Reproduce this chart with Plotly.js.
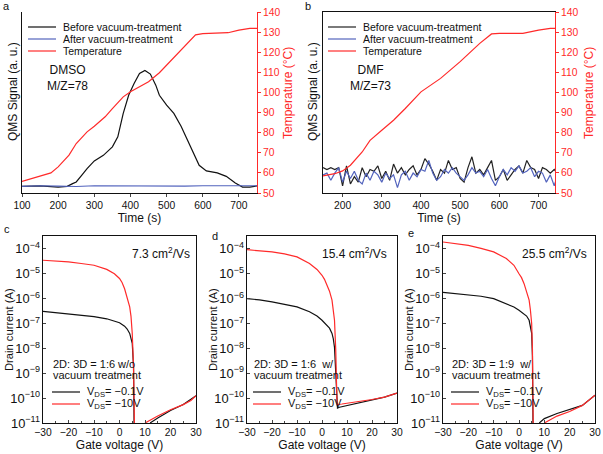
<!DOCTYPE html>
<html>
<head>
<meta charset="utf-8">
<script src="https://cdn.plot.ly/plotly-3.0.1.min.js"></script>
<style>
  html, body { margin: 0; padding: 0; background: #fff; }
  #fig { width: 603px; height: 454px; }
</style>
</head>
<body>
<div id="fig"></div>
<script>
// ---- panel a : DMSO, M/Z=78 ----
var aTime = [100, 150, 200, 225, 240, 250, 265, 280, 300, 325, 350, 365, 380, 395, 410, 425, 440, 455, 470, 480, 500, 520, 540, 560, 575, 590, 610, 640, 665, 690, 710, 730, 750];
var aBefore = [0.037, 0.039, 0.033, 0.037, 0.052, 0.061, 0.098, 0.135, 0.177, 0.208, 0.255, 0.31, 0.44, 0.54, 0.605, 0.66, 0.677, 0.657, 0.596, 0.54, 0.485, 0.44, 0.369, 0.282, 0.214, 0.153, 0.122, 0.111, 0.092, 0.055, 0.033, 0.033, 0.039];
var aTimeAfter = [100, 150, 200, 250, 300, 350, 400, 450, 500, 550, 600, 650, 700, 750];
var aAfter = [0.037, 0.04, 0.038, 0.036, 0.04, 0.039, 0.038, 0.04, 0.039, 0.038, 0.04, 0.039, 0.038, 0.04];
var aTempTime = [100, 150, 180, 200, 230, 250, 280, 300, 330, 350, 380, 400, 430, 450, 480, 500, 530, 560, 580, 600, 650, 670, 700, 730, 750];
var aTemp = [55.8, 58.3, 60, 63, 68.8, 74.6, 80.4, 83.2, 87.9, 92, 97.8, 100.3, 103.2, 105.3, 109.8, 113.6, 119.4, 125.2, 128.6, 129.2, 129.4, 129.7, 131, 131.9, 131.9];

// ---- panel b : DMF, M/Z=73 ----
var bTime = [];
for (var t = 150; t <= 750; t += 10) bTime.push(t);
var bBefore = [0.14, 0.13, 0.14, 0.13, 0.14, 0.04, 0.15, 0.05, 0.09, 0.06, 0.14, 0.09, 0.13, 0.12, 0.15, 0.08, 0.12, 0.07, 0.16, 0.11, 0.14, 0.10, 0.13, 0.15, 0.10, 0.13, 0.19, 0.16, 0.12, 0.07, 0.13, 0.11, 0.18, 0.13, 0.14, 0.08, 0.06, 0.14, 0.20, 0.11, 0.13, 0.10, 0.14, 0.18, 0.07, 0.09, 0.13, 0.07, 0.10, 0.13, 0.15, 0.11, 0.18, 0.14, 0.13, 0.08, 0.14, 0.13, 0.11, 0.13, 0.10];
var bAfter = [0.10, 0.11, 0.07, 0.11, 0.14, 0.06, 0.12, 0.08, 0.12, 0.07, 0.05, 0.11, 0.07, 0.12, 0.10, 0.06, 0.11, 0.08, 0.10, 0.03, 0.10, 0.12, 0.07, 0.11, 0.09, 0.13, 0.12, 0.18, 0.11, 0.07, 0.09, 0.13, 0.11, 0.14, 0.11, 0.09, 0.07, 0.10, 0.14, 0.11, 0.12, 0.09, 0.13, 0.08, 0.04, 0.09, 0.13, 0.10, 0.14, 0.12, 0.15, 0.11, 0.12, 0.14, 0.09, 0.12, 0.11, 0.06, 0.10, 0.04, 0.11];
var bTempTime = [150, 180, 200, 220, 250, 270, 300, 330, 360, 400, 450, 500, 550, 580, 600, 660, 700, 730, 750];
var bTemp = [58.5, 59.6, 61, 63.8, 70.4, 76.2, 81.2, 86.2, 92, 100.3, 107, 115.3, 124.4, 129.1, 129.4, 129.4, 131, 131.9, 131.9];

// ---- panels c, d, e : transfer curves ----
var cVgRed = [-30, -25, -20, -15, -10, -5, -2, 0, 1, 2, 3, 4, 4.5, 5, 5.5, 5.8, 6, null, 10, 12, 15, 20, 25, 28, 30];
var cRed = [3.5e-5, 3.3e-5, 3.0e-5, 2.6e-5, 2.2e-5, 1.5e-5, 1.0e-5, 6.5e-6, 4.5e-6, 2.5e-6, 1.2e-6, 4.7e-7, 2e-7, 4e-8, 1.8e-9, 1e-10, 1e-12, null, 1e-11, 1.3e-11, 1.9e-11, 3.4e-11, 5.5e-11, 8e-11, 1.25e-10];
var cVgBlack = [-30, -20, -10, -5, 0, 2, 3, 4, 4.5, 5, 5.5, 5.7, 5.8, null, 12, 15, 20, 25, 30];
var cBlack = [3.1e-7, 2.5e-7, 1.9e-7, 1.55e-7, 1.07e-7, 7.8e-8, 6e-8, 4e-8, 2.5e-8, 1.6e-8, 1.8e-9, 1e-10, 1e-12, null, 1e-11, 1.6e-11, 3.2e-11, 5.5e-11, 1.25e-10];

var dVgRed = [-30, -25, -20, -15, -10, -5, -2, 0, 1, 2, 3, 4, 5, 5.5, 5.8, 6, 8, 10, 15, 20, 25, 30];
var dRed = [9.3e-5, 8.5e-5, 7.6e-5, 6.3e-5, 4.8e-5, 2.6e-5, 1.5e-5, 8.7e-6, 6e-6, 3.5e-6, 2e-6, 8.7e-7, 1.35e-7, 8.5e-9, 3e-10, 5.5e-11, 5.8e-11, 6.2e-11, 7.3e-11, 8.8e-11, 1.1e-10, 1.6e-10];
var dVgBlack = [-30, -25, -20, -15, -10, -5, -2, 0, 2, 3, 4, 4.5, 5, 5.5, 5.8, 6.2, 7, 10, 15, 20, 25, 30];
var dBlack = [1.0e-6, 9e-7, 7.4e-7, 5.8e-7, 4.7e-7, 3.0e-7, 2.0e-7, 1.35e-7, 8.5e-8, 6.5e-8, 4e-8, 2.5e-8, 1.1e-8, 1e-9, 1.2e-10, 4e-11, 4.3e-11, 5e-11, 6.3e-11, 8.3e-11, 1.1e-10, 1.6e-10];

var eVgRed = [-30, -25, -20, -15, -10, -5, -2, 0, 1, 2, 3, 4, 4.5, 5, 5.3, 5.5, 5.7, null, 10, 12, 15, 20, 25, 30];
var eRed = [1.9e-4, 1.65e-4, 1.4e-4, 1.05e-4, 7.6e-5, 4.1e-5, 2.2e-5, 1.0e-5, 7e-6, 4e-6, 2e-6, 8.7e-7, 3.5e-7, 1e-7, 1e-8, 1e-9, 1e-12, null, 1e-11, 1.3e-11, 1.9e-11, 2.9e-11, 5.1e-11, 1.3e-10];
var eVgBlack = [-30, -25, -20, -15, -10, -5, -2, 0, 2, 3, 4, 4.5, 5, 5.3, 5.5, 5.6, null, 8, 10, 15, 20, 25, 30];
var eBlack = [1.8e-6, 1.6e-6, 1.5e-6, 1.25e-6, 1.0e-6, 6.3e-7, 4.6e-7, 3.4e-7, 2.4e-7, 2e-7, 1.35e-7, 8e-8, 4e-8, 5e-9, 3e-10, 1e-12, null, 1e-11, 1.5e-11, 2.4e-11, 3.5e-11, 5.1e-11, 1.3e-10];

// labels
var qmsNames = ["Before vacuum-treatment", "After vacuum-treatment", "Temperature"];
var vdsNames = ["V<sub>DS</sub>= \u22120.1V", "V<sub>DS</sub>= \u221210V"];
var ratioLabels = ["2D: 3D = 1:6 w/o", "2D: 3D = 1:6  w/", "2D: 3D = 1:9  w/"];
var mobLabels = ["7.3 cm<sup>2</sup>/Vs", "15.4 cm<sup>2</sup>/Vs", "25.5 cm<sup>2</sup>/Vs"];

var RED = "#ff2a2a";
var BLUE = "#5263bd";
var INK = "#111";
var FONT = "Liberation Sans, Arial, sans-serif";

function px(x) { return x / 603; }
function py(y) { return 1 - y / 454; }

function tr(x, y, color, name, xa, ya) {
  return { x: x, y: y, type: "scatter", mode: "lines", name: name, showlegend: false,
    line: { color: color, width: 1.2 }, xaxis: xa, yaxis: ya, connectgaps: false };
}

var data = [
  tr(aTime, aBefore, INK, qmsNames[0], "x", "y"),
  tr(aTimeAfter, aAfter, BLUE, qmsNames[1], "x", "y"),
  tr(aTempTime, aTemp, RED, qmsNames[2], "x", "y2"),
  tr(bTime, bBefore, "#222", qmsNames[0], "x2", "y3"),
  tr(bTime, bAfter, BLUE, qmsNames[1], "x2", "y3"),
  tr(bTempTime, bTemp, RED, qmsNames[2], "x2", "y4"),
  tr(cVgBlack, cBlack, INK, vdsNames[0], "x3", "y5"),
  tr(cVgRed, cRed, RED, vdsNames[1], "x3", "y5"),
  tr(dVgBlack, dBlack, INK, vdsNames[0], "x4", "y6"),
  tr(dVgRed, dRed, RED, vdsNames[1], "x4", "y6"),
  tr(eVgBlack, eBlack, INK, vdsNames[0], "x5", "y7"),
  tr(eVgRed, eRed, RED, vdsNames[1], "x5", "y7")
];

var tf = { family: FONT, size: 10.3, color: INK };
var titf = { family: FONT, size: 12, color: INK };

function timeAxis(dom, range, top) {
  return { domain: dom, range: range, dtick: 100, tick0: 0, ticks: "outside", ticklen: 3,
    linecolor: INK, linewidth: 1, showgrid: false, zeroline: false, tickfont: tf,
    title: { text: "Time (s)", font: titf, standoff: 2 }, mirror: top ? true : false };
}
function sigAxis(anchor) {
  return { domain: [py(193), py(12)], range: [0, 1], anchor: anchor, showticklabels: false, ticks: "",
    linecolor: INK, linewidth: 1, showgrid: false, zeroline: false };
}
function tempAxis(over, anchor) {
  return { overlaying: over, anchor: anchor, side: "right", range: [50, 140], dtick: 10,
    ticks: "outside", ticklen: 3, tickcolor: RED, linecolor: RED, linewidth: 1, showgrid: false,
    zeroline: false, tickfont: { family: FONT, size: 10.3, color: RED } };
}
function vgAxis(x0, x1, anchor) {
  return { domain: [px(x0), px(x1)], anchor: anchor, range: [-30, 30], dtick: 10, ticks: "inside", ticklen: 3,
    minor: { dtick: 5, ticks: "inside", ticklen: 2 }, linecolor: INK, linewidth: 1, mirror: true,
    showgrid: false, zeroline: false, tickfont: tf, title: { text: "Gate voltage (V)", font: titf, standoff: 2 } };
}
function idAxis(anchor) {
  return { domain: [py(423), py(236)], anchor: anchor, type: "log", range: [-11, -3.48], dtick: 1,
    exponentformat: "power", ticks: "inside", ticklen: 3, linecolor: INK, linewidth: 1, mirror: true,
    showgrid: false, zeroline: false, tickfont: tf };
}

var annotations = [];
var shapes = [];
function note(x, y, text, xa, size, color, angle) {
  annotations.push({ xref: "paper", yref: "paper", x: px(x), y: py(y), text: text, showarrow: false,
    xanchor: xa, yanchor: "middle", align: xa === "right" ? "right" : (xa === "left" ? "left" : "center"),
    textangle: angle || 0, borderpad: 0,
    font: { family: FONT, size: size, color: color || INK } });
}
// hand-made legend: short key line + label
function key(x0, x1, y, color, label, size) {
  shapes.push({ type: "line", xref: "paper", yref: "paper", x0: px(x0), x1: px(x1), y0: py(y), y1: py(y),
    line: { color: color, width: 1.2 } });
  note(x1 + 6, y, label, "left", size);
}

// panel letters
note(2, 6, "a", "left", 11);
note(304, 6, "b", "left", 11);
note(3, 229, "c", "left", 11);
note(211, 236, "d", "left", 11);
note(407, 233, "e", "left", 11);

// panels a, b
[[0, 28], [300, 328]].forEach(function (p, i) {
  key(p[1], p[1] + 28, 27, i ? "#222" : INK, qmsNames[0], 10.5);
  key(p[1], p[1] + 28, 39, BLUE, qmsNames[1], 10.5);
  key(p[1], p[1] + 28, 51, RED, qmsNames[2], 10.5);
});
note(67, 78, "DMSO<br>M/Z=78", "center", 12);
note(370, 78, "DMF<br>M/Z=73", "center", 12);
note(13, 92, "QMS Signal (a. u.)", "center", 12, INK, -90);
note(313, 92, "QMS Signal (a. u.)", "center", 12, INK, -90);
note(288, 93, "Temperature (\u00b0C)", "center", 12, RED, -90);
note(589, 93, "Temperature (\u00b0C)", "center", 12, RED, -90);

// panels c, d, e
[[43, 52, 191], [247, 253, 388], [443, 451, 588]].forEach(function (p, i) {
  note(p[0] - 34, 330, "Drain current (A)", "center", 11.2, INK, -90);
  note(p[1], 364, ratioLabels[i], "left", 11);
  note(p[1], 375, "vacuum treatment", "left", 11);
  key(p[1], p[1] + 28, 392, INK, vdsNames[0], 11);
  key(p[1], p[1] + 28, 404, RED, vdsNames[1], 11);
  note(p[2], 253, mobLabels[i], "right", 12);
});

var layout = {
  width: 603, height: 454,
  margin: { l: 0, r: 0, t: 0, b: 0 },
  paper_bgcolor: "#fff", plot_bgcolor: "rgba(0,0,0,0)",
  font: { family: FONT, size: 10, color: INK },
  showlegend: false,
  xaxis: timeAxis([px(22), px(257)], [100, 750], false),
  yaxis: sigAxis("x"),
  yaxis2: tempAxis("y", "x"),
  xaxis2: timeAxis([px(323), px(555)], [150, 742], true),
  yaxis3: sigAxis("x2"),
  yaxis4: tempAxis("y3", "x2"),
  xaxis3: vgAxis(43, 196, "y5"),
  yaxis5: idAxis("x3"),
  xaxis4: vgAxis(247, 397, "y6"),
  yaxis6: idAxis("x4"),
  xaxis5: vgAxis(443, 595, "y7"),
  yaxis7: idAxis("x5"),
  shapes: shapes,
  annotations: annotations
};

Plotly.newPlot("fig", data, layout, { displayModeBar: false, staticPlot: true });
</script>
</body>
</html>
